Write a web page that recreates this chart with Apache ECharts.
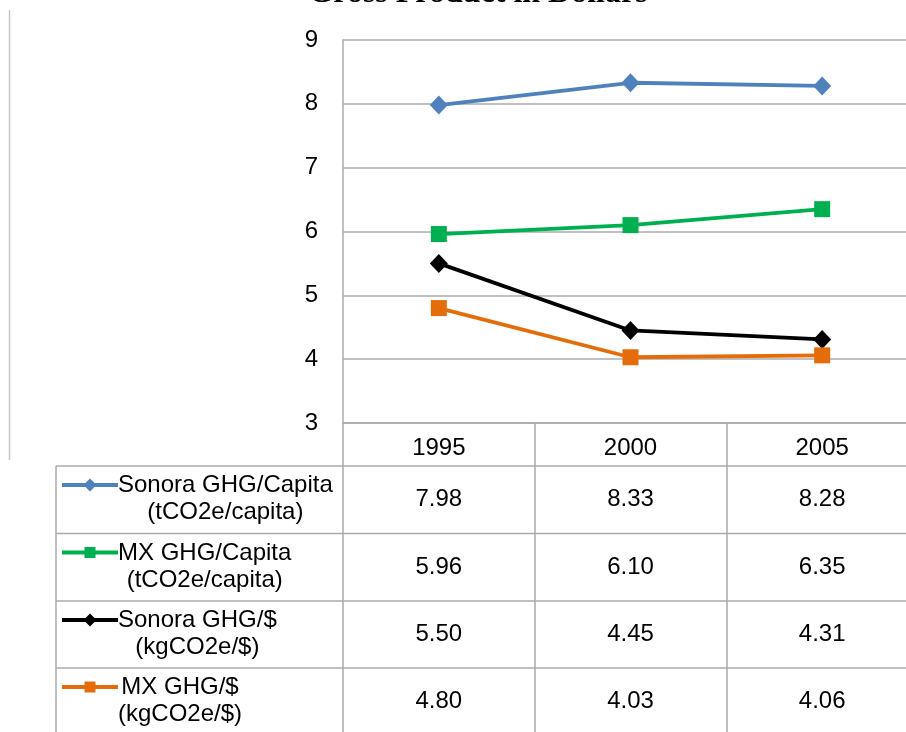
<!DOCTYPE html>
<html>
<head>
<meta charset="utf-8">
<script src="https://cdn.jsdelivr.net/npm/echarts@6/dist/echarts.min.js"></script>
<style>
  html, body { margin: 0; padding: 0; background: #ffffff; }
  #chart { width: 906px; height: 732px; }
</style>
</head>
<body>
<div id="chart"></div>
<script>
// Emission intensity data, 1995-2005
const years = ['1995', '2000', '2005'];
const seriesNames = ['Sonora GHG/Capita', 'MX GHG/Capita', 'Sonora GHG/$', 'MX GHG/$'];
const seriesUnits = ['(tCO2e/capita)', '(tCO2e/capita)', '(kgCO2e/$)', '(kgCO2e/$)'];
const sonoraPerCapita = [7.98, 8.33, 8.28];
const mxPerCapita = [5.96, 6.10, 6.35];
const sonoraPerDollar = [5.50, 4.45, 4.31];
const mxPerDollar = [4.80, 4.03, 4.06];
const yMin = 3, yMax = 9, yStep = 1;

const seriesValues = [sonoraPerCapita, mxPerCapita, sonoraPerDollar, mxPerDollar];
const seriesColors = ['#4F81BD', '#00B050', '#000000', '#E46C0A'];
const seriesSymbols = ['diamond', 'rect', 'diamond', 'rect'];
const symbolSizes = [[18, 19], [16, 16], [18, 19], [16, 16]];

const FONT = '"Liberation Sans", Arial, sans-serif';
const GRID_COLOR = '#ABABAB';

const chart = echarts.init(document.getElementById('chart'), null, { renderer: 'canvas' });

const option = {
  animation: false,
  backgroundColor: '#ffffff',
  // plot runs past the right edge of the page
  grid: { left: 343, top: 40, width: 575, height: 383, containLabel: false, outerBoundsMode: 'none' },
  xAxis: {
    type: 'category',
    data: years,
    boundaryGap: true,
    axisLine: { show: true, lineStyle: { color: GRID_COLOR, width: 1.5 } },
    axisTick: { show: true, alignWithLabel: false, inside: false, length: 320,
      lineStyle: { color: GRID_COLOR, width: 1.5 } },
    axisLabel: { margin: 13, fontFamily: FONT, fontSize: 24, color: '#000' }
  },
  yAxis: {
    type: 'value',
    min: yMin, max: yMax, interval: yStep,
    axisLine: { show: true, lineStyle: { color: GRID_COLOR, width: 1.5 } },
    axisTick: { show: false },
    axisLabel: { margin: 25, fontFamily: FONT, fontSize: 24, color: '#000' },
    splitLine: { show: true, lineStyle: { color: GRID_COLOR, width: 1.5 } }
  },
  series: seriesNames.map((name, i) => ({
    name: name,
    type: 'line',
    data: seriesValues[i],
    symbol: seriesSymbols[i],
    symbolSize: symbolSizes[i],
    lineStyle: { color: seriesColors[i], width: 3.8 },
    itemStyle: { color: seriesColors[i] },
    z: 3 + i
  }))
};
chart.setOption(option);

// Data table below the plot
const measure = document.createElement('canvas').getContext('2d');
measure.font = '24px ' + FONT;
const rowTops = [466, 533.5, 601, 668];
const rowH = 67.5;
const tableLeft = 56, tableRight = 906, tableBottom = 732;
const graphics = [];

// outer frame line at far left
graphics.push({ type: 'line', shape: { x1: 9.5, y1: 10, x2: 9.5, y2: 460 },
  style: { stroke: '#C8C8C8', lineWidth: 1.5 }, silent: true });

// title (last line visible at top)
graphics.push({ type: 'text', x: 478, y: 10,
  style: { text: 'Gross Product in Dollars', font: 'bold 32px "Liberation Serif", "Times New Roman", serif',
    fill: '#000', align: 'center', verticalAlign: 'bottom' } });

rowTops.forEach((top) => {
  graphics.push({ type: 'line', shape: { x1: tableLeft, y1: top, x2: tableRight, y2: top },
    style: { stroke: GRID_COLOR, lineWidth: 1.5 }, silent: true });
});
graphics.push({ type: 'line', shape: { x1: tableLeft, y1: rowTops[0], x2: tableLeft, y2: tableBottom },
  style: { stroke: GRID_COLOR, lineWidth: 1.5 }, silent: true });

seriesNames.forEach((name, i) => {
  const top = rowTops[i];
  const line1Y = top + 19.5;
  const line2Y = top + 46.5;
  const keyY = top + 19;
  // legend key: line with marker
  graphics.push({ type: 'line', shape: { x1: 62, y1: keyY, x2: 118, y2: keyY },
    style: { stroke: seriesColors[i], lineWidth: 3.8 }, silent: true });
  if (seriesSymbols[i] === 'diamond') {
    graphics.push({ type: 'polygon', shape: { points: [[90, keyY - 6.5], [96.5, keyY], [90, keyY + 6.5], [83.5, keyY]] },
      style: { fill: seriesColors[i] }, silent: true });
  } else {
    graphics.push({ type: 'rect', shape: { x: 84.5, y: keyY - 5.5, width: 11, height: 11 },
      style: { fill: seriesColors[i] }, silent: true });
  }
  // two-line label, centred as a block to the right of the key
  const w = Math.max(measure.measureText(name).width, measure.measureText(seriesUnits[i]).width);
  const cx = 118 + w / 2;
  graphics.push({ type: 'text', x: cx, y: line1Y,
    style: { text: name, font: '24px ' + FONT, fill: '#000', align: 'center', verticalAlign: 'middle' } });
  graphics.push({ type: 'text', x: cx, y: line2Y,
    style: { text: seriesUnits[i], font: '24px ' + FONT, fill: '#000', align: 'center', verticalAlign: 'middle' } });
  // values
  seriesValues[i].forEach((v, j) => {
    const px = chart.convertToPixel({ xAxisIndex: 0 }, years[j]);
    graphics.push({ type: 'text', x: px, y: top + rowH / 2,
      style: { text: v.toFixed(2), font: '24px ' + FONT, fill: '#000', align: 'center', verticalAlign: 'middle' } });
  });
});

chart.setOption({ graphic: graphics });
</script>
</body>
</html>
